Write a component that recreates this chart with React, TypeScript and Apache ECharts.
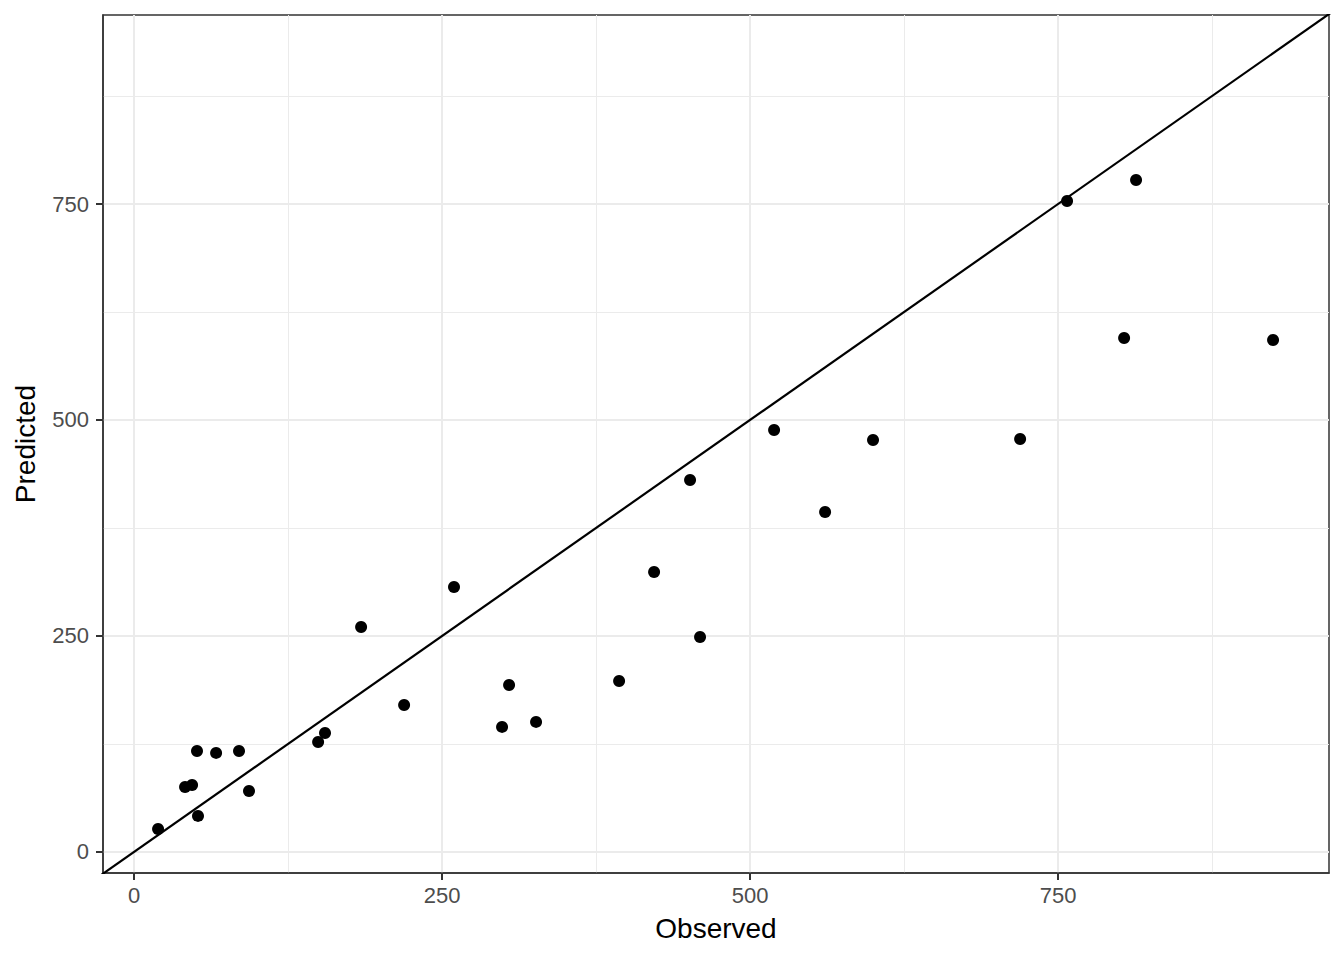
import React, { useEffect, useRef } from "react";
import * as echarts from "echarts";

const observed = [19.5, 41.4, 47.1, 51.1, 51.9, 66.6, 85.2, 93.3, 149.4, 155.0, 184.3, 219.2, 259.7, 298.7, 304.4, 326.3, 393.7, 422.1, 451.3, 459.4, 519.5, 560.9, 599.8, 719.2, 757.3, 803.6, 813.3, 924.5];
const predicted = [26.6, 75.2, 77.5, 116.9, 41.7, 114.6, 116.9, 70.6, 127.3, 137.7, 260.4, 170.1, 306.7, 144.7, 193.3, 150.5, 197.9, 324.1, 430.6, 248.8, 488.4, 393.5, 476.9, 478.0, 753.5, 594.9, 777.8, 592.6];
const majorTicks = [0, 250, 500, 750];
const minorTicks = [125, 375, 625, 875];
const xRange = [-25.2, 969.9];
const yRange = [-24.4, 968.8];
const identityLine = [[-30, -30], [1000, 1000]];

const FONT = '"Liberation Sans", Arial, Helvetica, sans-serif';

export default function App() {
  const ref = useRef<HTMLDivElement>(null);
  useEffect(() => {
    if (!ref.current) return;
    const chart = echarts.init(ref.current, null, { renderer: "svg" });
    const gridMarks: any[] = [];
    minorTicks.forEach((v) => {
      gridMarks.push({ xAxis: v, lineStyle: { color: "#EBEBEB", width: 1, type: "solid" } });
      gridMarks.push({ yAxis: v, lineStyle: { color: "#EBEBEB", width: 1, type: "solid" } });
    });
    majorTicks.forEach((v) => {
      gridMarks.push({ xAxis: v, lineStyle: { color: "#EBEBEB", width: 2, type: "solid" } });
      gridMarks.push({ yAxis: v, lineStyle: { color: "#EBEBEB", width: 2, type: "solid" } });
    });
    const axisCommon = {
      type: "value",
      splitLine: { show: false },
      axisLine: { show: true, onZero: false, lineStyle: { color: "#333333", width: 1.5 } },
      axisTick: { show: true, customValues: majorTicks, length: 7, lineStyle: { color: "#333333", width: 2 } },
      nameLocation: "middle",
      nameTextStyle: { color: "#000000", fontSize: 28, fontFamily: FONT },
    };
    chart.setOption({
      animation: false,
      backgroundColor: "#ffffff",
      grid: {
        left: 103,
        right: 15,
        top: 15,
        bottom: 87,
        show: true,
        borderColor: "#333333",
        borderWidth: 1.5,
        backgroundColor: "transparent",
        containLabel: false,
      },
      xAxis: {
        ...axisCommon,
        min: xRange[0],
        max: xRange[1],
        name: "Observed",
        nameGap: 41,
        axisLabel: {
          customValues: majorTicks,
          color: "#4D4D4D",
          fontSize: 22,
          fontFamily: FONT,
          margin: 11,
        },
      },
      yAxis: {
        ...axisCommon,
        min: yRange[0],
        max: yRange[1],
        name: "Predicted",
        nameGap: 64,
        axisLabel: {
          customValues: majorTicks,
          color: "#4D4D4D",
          fontSize: 22,
          fontFamily: FONT,
          margin: 14,
        },
      },
      series: [
        {
          type: "line",
          data: [],
          z: 0,
          silent: true,
          markLine: {
            silent: true,
            z: 0,
            symbol: ["none", "none"],
            label: { show: false },
            emphasis: { disabled: true },
            animation: false,
            data: gridMarks,
          },
        },
        {
          type: "line",
          data: identityLine,
          showSymbol: false,
          clip: true,
          z: 6,
          lineStyle: { color: "#000000", width: 2.2 },
          silent: true,
        },
        {
          type: "scatter",
          data: observed.map((x, i) => [x, predicted[i]]),
          symbol: "circle",
          symbolSize: 12,
          z: 8,
          itemStyle: { color: "#000000", opacity: 1 },
        },
      ],
    });
    return () => chart.dispose();
  }, []);
  return (
    <div
      ref={ref}
      style={{ position: "fixed", left: 0, top: 0, width: 1344, height: 960, background: "#fff" }}
    />
  );
}
